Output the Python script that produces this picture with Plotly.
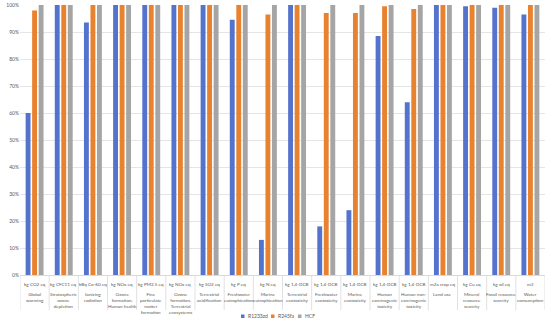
import plotly.graph_objects as go

categories = ["Global<br>warming", "Stratospheric<br>ozone<br>depletion", "Ionizing<br>radiation",
              "Ozone<br>formation,<br>Human health", "Fine<br>particulate<br>matter<br>formation",
              "Ozone<br>formation,<br>Terrestrial<br>ecosystems", "Terrestrial<br>acidification",
              "Freshwater<br>eutrophication", "Marine<br>eutrophication", "Terrestrial<br>ecotoxicity",
              "Freshwater<br>ecotoxicity", "Marine<br>ecotoxicity", "Human<br>carcinogenic<br>toxicity",
              "Human non-<br>carcinogenic<br>toxicity", "Land use", "Mineral<br>resource<br>scarcity",
              "Fossil resource<br>scarcity", "Water<br>consumption"]
units = ["kg CO2 eq", "kg CFC11 eq", "kBq Co-60 eq", "kg NOx eq", "kg PM2.5 eq", "kg NOx eq",
         "kg SO2 eq", "kg P eq", "kg N eq", "kg 1,4-DCB", "kg 1,4-DCB", "kg 1,4-DCB",
         "kg 1,4-DCB", "kg 1,4-DCB", "m2a crop eq", "kg Cu eq", "kg oil eq", "m3"]
r1233zd = [0.60, 1.00, 0.935, 1.00, 1.00, 1.00, 1.00, 0.945, 0.13, 1.00, 0.18, 0.24,
           0.885, 0.64, 1.00, 0.995, 0.99, 0.965]
r245fa = [0.98, 1.00, 1.00, 1.00, 1.00, 1.00, 1.00, 1.00, 0.965, 1.00, 0.97, 0.97,
          0.995, 0.985, 1.00, 1.00, 1.00, 1.00]
hcf = [1.00] * 18
series_names = ["R1233zd", "R245fa", "HCF"]
colors = ["#5473CC", "#E8822F", "#A5A5A5"]

idx = list(range(len(categories)))
FONT = "Lato"
TXT = "#595959"
fig = go.Figure()
for name, vals, col in zip(series_names, [r1233zd, r245fa, hcf], colors):
    fig.add_trace(go.Bar(x=idx, y=vals, name=name, marker=dict(color=col, line=dict(width=0))))

ann = []
shapes = []
for i, (u, c) in enumerate(zip(units, categories)):
    ann.append(dict(x=i, y=-0.013, xref="x", yref="paper", text=u, showarrow=False,
                    yanchor="top", xanchor="center", font=dict(size=4.6, color=TXT, family=FONT)))
    ann.append(dict(x=i, y=-0.05, xref="x", yref="paper", text=c, showarrow=False,
                    yanchor="top", xanchor="center", font=dict(size=4.6, color=TXT, family=FONT)))
for i in range(len(categories) + 1):
    shapes.append(dict(type="line", xref="x", yref="paper", x0=i - 0.5, x1=i - 0.5,
                       y0=0, y1=-0.13, line=dict(color="#D9D9D9", width=0.8)))

# manual legend (small square markers like the reference)
leg_x = [241, 271, 298]
for lx, name, col in zip(leg_x, series_names, colors):
    shapes.append(dict(type="rect", xref="paper", yref="paper",
                       x0=(lx - 20) / 525, x1=(lx + 3.5 - 20) / 525,
                       y0=(275 - 318) / 270, y1=(275 - 314.5) / 270,
                       fillcolor=col, line=dict(width=0)))
    ann.append(dict(x=(lx + 5 - 20) / 525, y=(275 - 316.3) / 270, xref="paper", yref="paper",
                    text=name, showarrow=False, xanchor="left", yanchor="middle",
                    font=dict(size=5, color=TXT, family=FONT)))

fig.update_layout(
    width=550, height=328,
    margin=dict(l=20, r=5, t=5, b=53, autoexpand=False),
    paper_bgcolor="white", plot_bgcolor="white",
    barmode="group", bargap=0.33, bargroupgap=0.25,
    showlegend=False,
    xaxis=dict(range=[-0.5, len(categories) - 0.5], showticklabels=False, showgrid=False,
               zeroline=False, showline=True, linecolor="#D9D9D9", linewidth=0.8, automargin=False),
    yaxis=dict(range=[0, 1.0], tickformat=".0%", dtick=0.1, showgrid=True, gridcolor="#E5E5E5",
               gridwidth=0.8, zeroline=False, tickfont=dict(size=5, color=TXT, family=FONT),
               ticks="", ticklen=0, automargin=False),
    annotations=ann, shapes=shapes,
)
fig.write_html("out.html", config={"displayModeBar": False},
               post_script="document.body.style.margin='0';document.body.style.overflow='hidden';")
